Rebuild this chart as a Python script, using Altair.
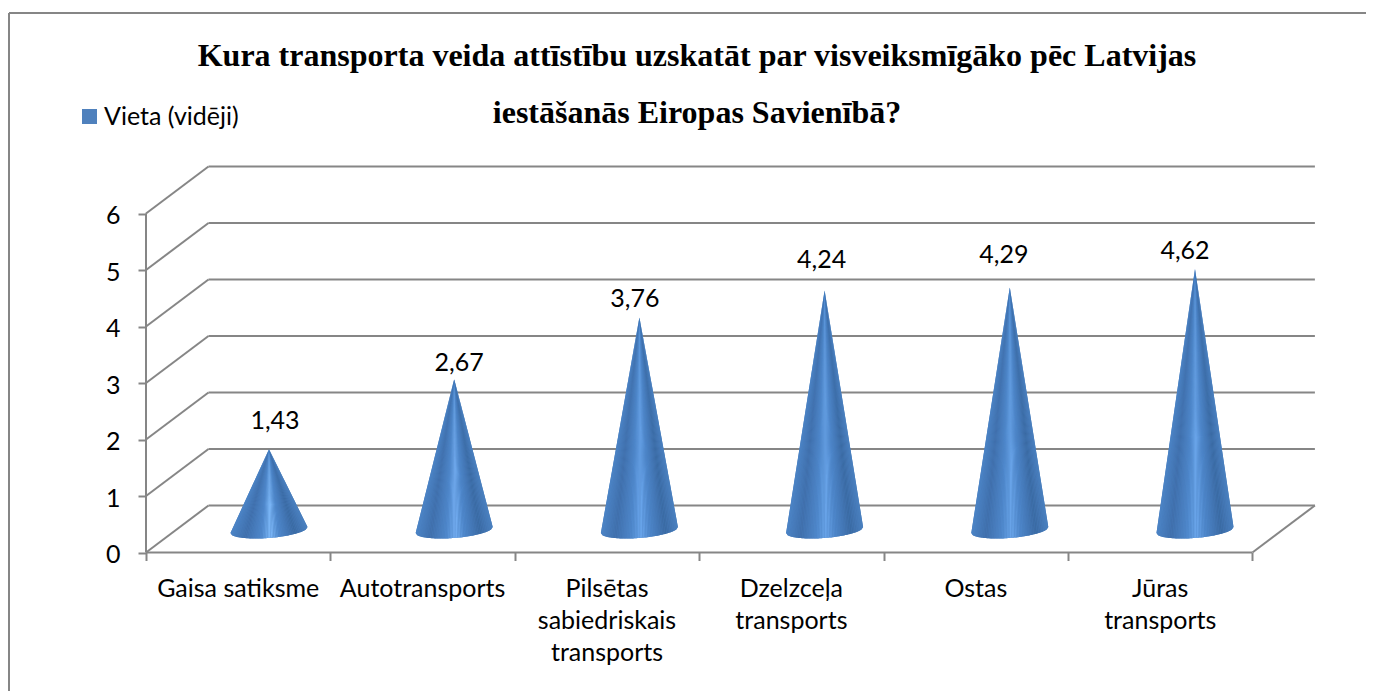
import math
import altair as alt
import pandas as pd

categories = ["Gaisa satiksme", "Autotransports", "Pilsētas\nsabiedriskais\ntransports",
              "Dzelzceļa\ntransports", "Ostas", "Jūras\ntransports"]
values = [1.43, 2.67, 3.76, 4.24, 4.29, 4.62]
value_labels = ["1,43", "2,67", "3,76", "4,24", "4,29", "4,62"]
y_ticks = [0, 1, 2, 3, 4, 5, 6]
x_ticks = [0, 1, 2, 3, 4, 5, 6]
series_name = "Vieta (vidēji)"
title_lines = ["Kura transporta veida attīstību uzskatāt par visveiksmīgāko pēc Latvijas",
               "iestāšanās Eiropas Savienībā?"]

# layout (pixels of the whole chart)
W, H = 1358, 683
X0, Y0 = 138.0, 544.5      # where data (0,0) falls
UX, UY = 184.4, 56.5       # pixels per data unit
DEPTH_X, DEPTH_Y = 62.5 / UX, 47.0 / UY
GRID = "#868686"
FONT = "Lato"
FS = 25

xs = alt.Scale(domain=[-X0 / UX, (W - X0) / UX], nice=False, zero=False)
ys = alt.Scale(domain=[(Y0 - H) / UY, Y0 / UY], nice=False, zero=False)
x_axis = alt.Axis(values=x_ticks, labels=False, title=None, grid=False, domain=False,
                  tickColor=GRID, tickWidth=2, tickSize=8, offset=-(H - Y0))
y_axis = alt.Axis(values=y_ticks, title=None, grid=False, domain=False, tickColor=GRID,
                  tickWidth=2, tickSize=8, offset=-X0, labelFont=FONT, labelFontSize=FS,
                  labelColor="#000000", labelPadding=18, labelOffset=2, labelFlush=False,
                  labelOverlap=False)

def X(f):
    return alt.X(f, scale=xs, axis=x_axis)

def Y(f):
    return alt.Y(f, scale=ys, axis=y_axis)

# --- walls
segs = []
def seg(k, a, b):
    segs.append({"k": k, "x": a[0], "y": a[1], "o": 0})
    segs.append({"k": k, "x": b[0], "y": b[1], "o": 1})
for v in y_ticks:
    seg(f"b{v}", (DEPTH_X, v + DEPTH_Y), (6 + DEPTH_X, v + DEPTH_Y))
    seg(f"s{v}", (0, v), (DEPTH_X, v + DEPTH_Y))
seg("front", (0, 0), (6, 0))
seg("left", (0, 0), (0, 6))
seg("floor", (6, 0), (6 + DEPTH_X, DEPTH_Y))
walls = alt.Chart(pd.DataFrame(segs)).mark_line(color=GRID, strokeWidth=2).encode(
    x=X("x:Q"), y=Y("y:Q"), detail="k:N", order="o:Q")

# --- frame
frame_top = alt.Chart(pd.DataFrame({"a": [0]})).mark_rule(color="#868686", strokeWidth=2).encode(
    x=alt.value(1), x2=alt.value(W), y=alt.value(5))
frame_left = alt.Chart(pd.DataFrame({"a": [0]})).mark_rule(color="#868686", strokeWidth=2).encode(
    x=alt.value(1), y=alt.value(5), y2=alt.value(H))

# --- cones, each drawn as thin wedges running from the apex to the base
def hex2(c):
    return [int(c[i:i + 2], 16) for i in (1, 3, 5)]

def shade(t, light):
    stops = [(-1.0, "#4c84c6"), (-0.62, "#3f6fab"), (-0.2, "#4f88cc"), (0.04, light),
             (0.26, "#4f88cc"), (0.68, "#3a6aa3"), (1.0, "#4a80c0")]
    for (a, ca), (b, cb) in zip(stops, stops[1:]):
        if a <= t <= b:
            f = (t - a) / (b - a)
            rgb = [round(p + (q - p) * f) for p, q in zip(hex2(ca), hex2(cb))]
            return "#%02x%02x%02x" % tuple(rgb)
    return stops[-1][1]

BASE = 22.5 / UY
R = 38.5 / UX
N = 48
lights = ["#7db8f8", "#74aef2", "#6aa6ec", "#6aa5ea", "#6aa5ea", "#6aa5ea"]
centers = [0.667 + i * 185.2 / UX for i in range(6)]

def base_y(t):
    return BASE + (3 * t - 8 * math.sqrt(max(0, 1 - t * t))) / UY

rows = []
under = []
for i, v in enumerate(values):
    cx, apex = centers[i], BASE + v
    for t in [-1 + 2 * k / N for k in range(N + 1)]:
        b_end = base_y(-1.0 if t < 0 else 1.0)
        under.append({"w": str(i), "x": cx + t * R, "top": apex + (b_end - apex) * abs(t),
                      "low": base_y(t)})
    for j in range(N):
        t1, t2 = -1 + 2 * j / N, -1 + 2 * (j + 1) / N
        tm = (t1 + t2) / 2
        w = f"{i}-{j}"
        col = shade(tm, lights[i])
        pts = []
        if t2 <= 0:
            b1 = base_y(t1)
            pts.append((t1, b1, b1))
            pts.append((t2, apex + (b1 - apex) * (t2 / t1), base_y(t2)))
            if t2 < 0:
                pts.append((0, apex, apex))
        else:
            b2 = base_y(t2)
            if t1 > 0:
                pts.append((0, apex, apex))
            pts.append((t1, apex + (b2 - apex) * (t1 / t2), base_y(t1)))
            pts.append((t2, b2, b2))
        for t, top, low in pts:
            rows.append({"w": w, "x": cx + t * R, "top": top, "low": low, "c": col})

cone_under = alt.Chart(pd.DataFrame(under)).mark_area(color="#4a7fbe").encode(
    x=X("x:Q"), y=Y("top:Q"), y2="low:Q", detail="w:N")
cones = alt.Chart(pd.DataFrame(rows)).mark_area().encode(
    x=X("x:Q"), y=Y("top:Q"), y2="low:Q",
    color=alt.Color("c:N", scale=None),
    detail="w:N")

# --- value labels
label_nudges = [(6, -28), (5, -16), (-4.5, -19), (-3, -30), (-6, -33), (-10, -18)]
label_layers = []
for i, v in enumerate(values):
    dx, dy = label_nudges[i]
    label_layers.append(
        alt.Chart(pd.DataFrame({"x": [centers[i]], "y": [BASE + v], "s": [value_labels[i]]}))
        .mark_text(font=FONT, fontSize=FS, color="#000000", dx=dx, dy=dy, baseline="middle")
        .encode(x=X("x:Q"), y=Y("y:Q"), text="s:N"))

# --- category labels
cat_df = pd.DataFrame({"x": [i + 0.5 for i in range(6)],
                       "y": [-24.0 / UY] * 6,
                       "s": categories})
cat_text = alt.Chart(cat_df).mark_text(font=FONT, fontSize=FS, color="#000000", baseline="top",
                                       lineBreak="\n", lineHeight=32).encode(
    x=X("x:Q"), y=Y("y:Q"), text="s:N")

# --- legend
legend_layer = alt.Chart(pd.DataFrame({"x": centers, "y": values, "s": [series_name] * 6})).mark_square(
    opacity=0).encode(
    x=X("x:Q"), y=Y("y:Q"),
    color=alt.Color("s:N", scale=alt.Scale(domain=[series_name], range=["#4f81bd"]),
                    legend=alt.Legend(orient="none", legendX=69, legendY=96, title=None,
                                      symbolType="square", symbolSize=225, symbolOpacity=1,
                                      labelFont=FONT, labelFontSize=FS, labelColor="#000000",
                                      symbolStrokeWidth=0, labelOffset=2)))

chart = alt.layer(walls, frame_top, frame_left, cone_under, cones, *label_layers, cat_text,
                  legend_layer).resolve_scale(
    color="independent"
).properties(
    width=W, height=H, padding=0, autosize=alt.AutoSizeParams(type="none"),
    background="#ffffff",
    title=alt.TitleParams(text=title_lines, font="Liberation Serif", fontSize=32, fontWeight="bold",
                          color="#000000", anchor="middle", dx=10, lineHeight=57.5, offset=-122),
).configure_view(stroke=None)

chart.save("out.html", embed_options={"renderer": "svg", "actions": False})
